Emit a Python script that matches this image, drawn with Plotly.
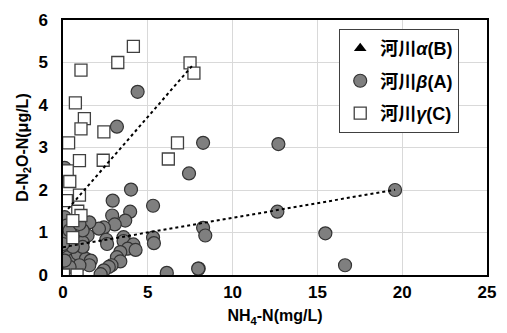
import plotly.graph_objects as go

# ---- data ----
alpha_x = [0.05, 0.15, 0.3]
alpha_y = [0.55, 0.3, 0.75]

beta_x = [4.4, 3.18, 0.1, 8.26, 12.7, 19.58, 12.64, 8.26, 8.39, 15.47, 8.0, 16.63,
          7.43, 4.01, 2.93, 5.31, 3.96, 2.9, 3.67, 3.05, 2.41, 2.12, 1.55, 0.29,
          0.1, 0.2, 5.31, 5.36, 3.57, 3.57, 2.55, 2.6, 1.45, 1.16, 4.15, 3.82,
          4.28, 3.38, 3.18, 3.38, 2.86, 2.7, 2.41, 2.22, 6.12, 7.97, 0.0, 0.1,
          0.29, 0.58, 0.87, 1.35, 1.64, 1.55, 0.97, 0.39, 0.1, 1.16, 0.58, 0.0,
          0.39, 1.16, 0.97]
beta_y = [4.31, 3.49, 2.52, 3.11, 3.08, 2.0, 1.49, 1.11, 0.93, 0.98, 0.15, 0.23,
          2.39, 2.01, 1.75, 1.63, 1.49, 1.4, 1.28, 1.19, 1.12, 1.09, 1.24, 1.24,
          1.36, 1.16, 0.88, 0.75, 0.89, 0.8, 0.83, 0.73, 0.93, 0.77, 0.72, 0.62,
          0.59, 0.54, 0.42, 0.32, 0.23, 0.19, 0.11, 0.02, 0.05, 0.15, 0.85, 0.58,
          0.42, 0.34, 0.5, 0.38, 0.34, 0.23, 0.23, 0.19, 0.34, 0.66, 0.66, 0.73,
          1.05, 1.05, 1.2]

gamma_x = [4.15, 3.23, 1.06, 7.49, 7.72, 0.73, 1.26, 1.06, 2.41, 0.33, 6.75, 0.97,
           2.37, 6.21, 0.25, 0.4, 0.97, 0.2, 0.87, 1.06, 0.58, 0.58, 0.03, 0.83]
gamma_y = [5.38, 5.0, 4.82, 4.99, 4.75, 4.05, 3.68, 3.44, 3.37, 3.11, 3.11, 2.69,
           2.70, 2.73, 2.45, 2.2, 1.88, 1.75, 1.5, 1.40, 1.28, 0.88, 0.0, 0.0]

# linear trend lines (slope, intercept) and their x spans
beta_trend = [0.069, 0.655]
beta_span = [0.0, 19.58]
gamma_trend = [0.46, 1.42]
gamma_span = [0.3, 7.6]

x_ticks = [0, 5, 10, 15, 20, 25]
y_ticks = [0, 1, 2, 3, 4, 5, 6]

names = ["<b>河川<i>α</i>(B)</b>", "<b>河川<i>β</i>(A)</b>", "<b>河川<i>γ</i>(C)</b>"]

FONT = "Liberation Sans, Arial, Noto Sans CJK JP"


def trend(span, coef):
    return span, [coef[0] * v + coef[1] for v in span]


fig = go.Figure()
fig.add_trace(go.Scatter(x=alpha_x, y=alpha_y, mode="markers", name=names[0],
                         legendgroup="a",
                         marker=dict(symbol="triangle-up", size=11, color="black")))
fig.add_trace(go.Scatter(x=beta_x, y=beta_y, mode="markers", name=names[1],
                         legendgroup="b",
                         marker=dict(symbol="circle", size=13, color="#7f7f7f",
                                     line=dict(color="#333333", width=1.2))))
bx, by = trend(beta_span, beta_trend)
fig.add_trace(go.Scatter(x=bx, y=by, mode="lines", showlegend=False,
                         line=dict(color="black", width=2, dash="dot")))
fig.add_trace(go.Scatter(x=gamma_x, y=gamma_y, mode="markers", name=names[2],
                         legendgroup="c",
                         marker=dict(symbol="square", size=12, color="white",
                                     line=dict(color="#404040", width=1.3))))
gx, gy = trend(gamma_span, gamma_trend)
fig.add_trace(go.Scatter(x=gx, y=gy, mode="lines", showlegend=False,
                         line=dict(color="black", width=2, dash="dot")))

axis_common = dict(showline=True, linecolor="black", linewidth=1.5, mirror=True,
                   showgrid=True, gridcolor="#d9d9d9", gridwidth=1, zeroline=False,
                   tickfont=dict(family=FONT, size=17, color="black"),
                   ticks="", ticklabeloverflow="allow")

fig.update_xaxes(range=[0, 25], tickvals=x_ticks,
                 ticktext=[f"<b>{v}</b>" for v in x_ticks], ticklabelstandoff=1,
                 title=dict(text="<b>NH<sub>4</sub>-N(mg/L)</b>", standoff=9,
                            font=dict(family=FONT, size=16, color="black")),
                 **axis_common)
fig.update_yaxes(range=[0, 6], tickvals=y_ticks,
                 ticktext=[f"<b>{v}</b>" for v in y_ticks], ticklabelstandoff=10,
                 title=dict(text="<b>D-N<sub>2</sub>O-N(μg/L)</b>", standoff=6,
                            font=dict(family=FONT, size=16, color="black")),
                 **axis_common)

fig.update_layout(
    width=507, height=333,
    margin=dict(l=63, r=11, t=18, b=58),
    plot_bgcolor="white", paper_bgcolor="white",
    legend=dict(x=0.651, y=0.965, xanchor="left", yanchor="top",
                bgcolor="white", bordercolor="#404040", borderwidth=1.2,
                font=dict(family=FONT, size=18, color="black"),
                itemwidth=30, tracegroupgap=6),
    showlegend=True,
)

fig.write_html("out.html", config={"displayModeBar": False},
               post_script="document.body.style.margin='0';document.body.style.overflow='hidden';")
